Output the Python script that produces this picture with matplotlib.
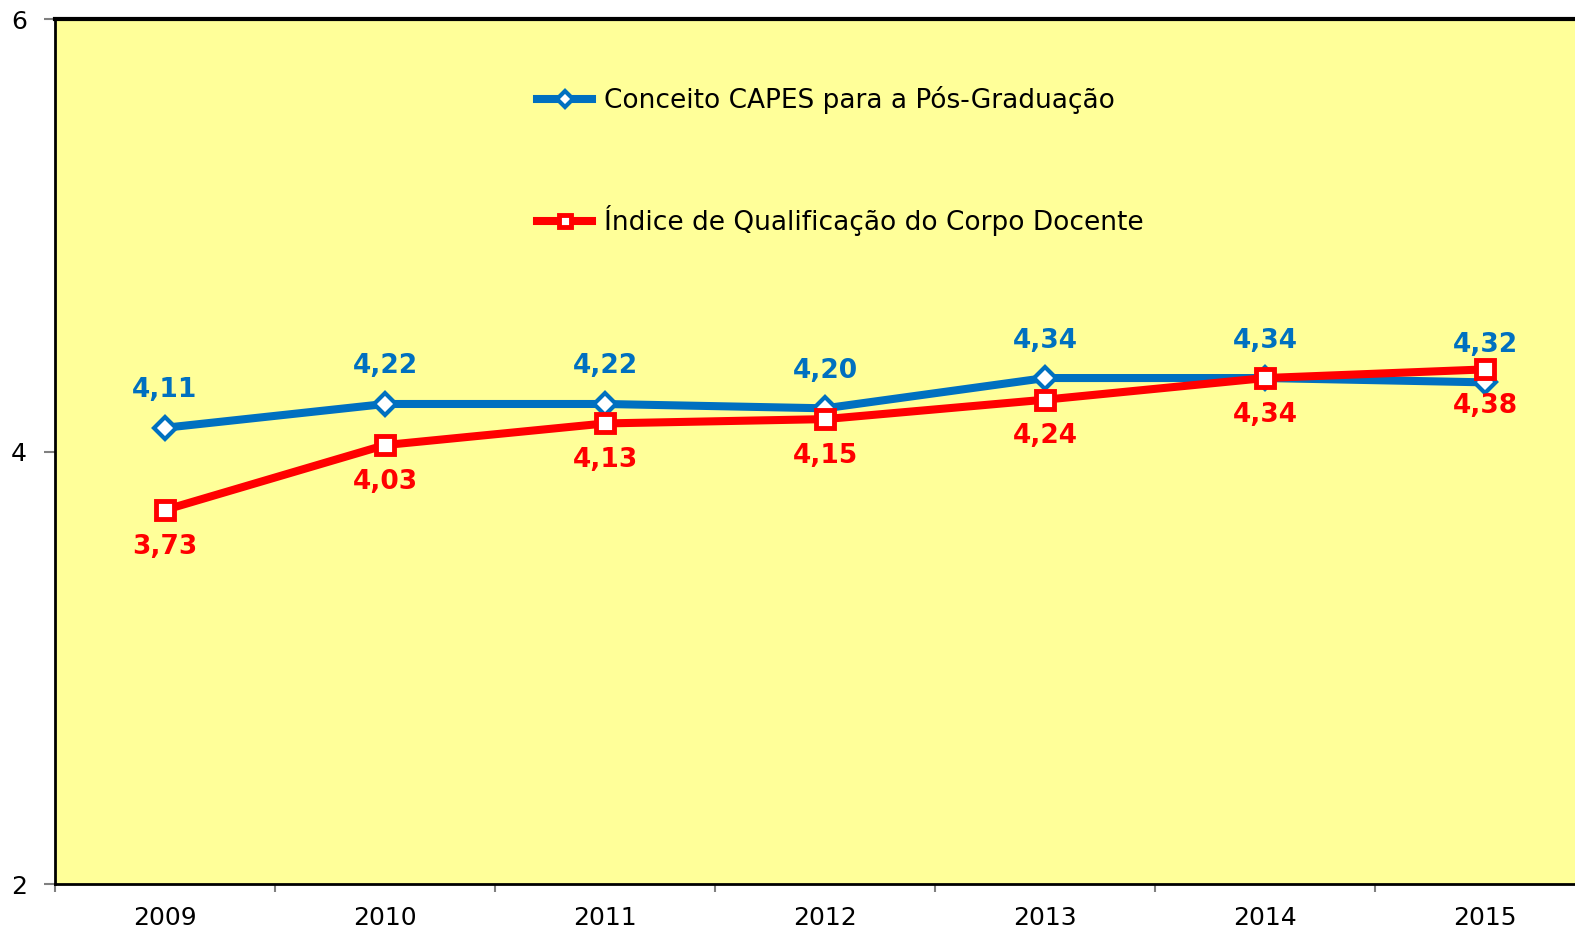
import matplotlib.pyplot as plt
import numpy as np

# dados
anos = ['2009', '2010', '2011', '2012', '2013', '2014', '2015']
conceito_capes = [4.11, 4.22, 4.22, 4.20, 4.34, 4.34, 4.32]
indice_qualif = [3.73, 4.03, 4.13, 4.15, 4.24, 4.34, 4.38]
nome_capes = 'Conceito CAPES para a Pós-Graduação'
nome_iqcd = 'Índice de Qualificação do Corpo Docente'

azul = '#0070C0'
vermelho = '#FF0000'

fig = plt.figure(figsize=(15.75, 9.35), dpi=100)
ax = fig.add_axes([0.0349, 0.0545, 0.978, 0.9251])
ax.set_facecolor('#FFFF99')

x = np.arange(len(anos))
ax.plot(x, conceito_capes, color=azul, lw=5.8, marker='D', ms=11,
        mfc='white', mec=azul, mew=3, label=nome_capes, zorder=3)
ax.plot(x, indice_qualif, color=vermelho, lw=5.8, marker='s', ms=13,
        mfc='white', mec=vermelho, mew=3.5, label=nome_iqcd, zorder=4)

for i, v in enumerate(conceito_capes):
    ax.annotate(f'{v:.2f}'.replace('.', ','), (x[i], v), xytext=(0, 27),
                textcoords='offset points', ha='center', va='center',
                color=azul, fontsize=19, fontweight='bold')
for i, v in enumerate(indice_qualif):
    ax.annotate(f'{v:.2f}'.replace('.', ','), (x[i], v), xytext=(0, -26.5),
                textcoords='offset points', ha='center', va='center',
                color=vermelho, fontsize=19, fontweight='bold')

ax.set_xlim(-0.5, len(anos) - 0.5)
ax.set_ylim(2, 6)
ax.set_yticks([2, 4, 6])
ax.set_xticks(x)
ax.set_xticklabels(anos)
ax.set_xticks(np.arange(len(anos) + 1) - 0.5, minor=True)
ax.tick_params(axis='x', which='major', length=0, labelsize=18, pad=16)
ax.tick_params(axis='x', which='minor', length=6, width=1.5, color='#808080', direction='out')
ax.tick_params(axis='y', length=8, width=1.5, color='#808080', labelsize=18, pad=12)

for s in ['top', 'left', 'bottom']:
    ax.spines[s].set_color('black')
ax.spines['top'].set_linewidth(3)
ax.spines['left'].set_linewidth(2)
ax.spines['bottom'].set_linewidth(2)
ax.spines['right'].set_visible(False)

ax.legend(loc='upper left', bbox_to_anchor=(0.2975, 0.95), frameon=False,
          fontsize=19, labelspacing=3.45, handlelength=2.1, handletextpad=0.45,
          markerscale=0.7)

fig.savefig('out.png', dpi=100)
